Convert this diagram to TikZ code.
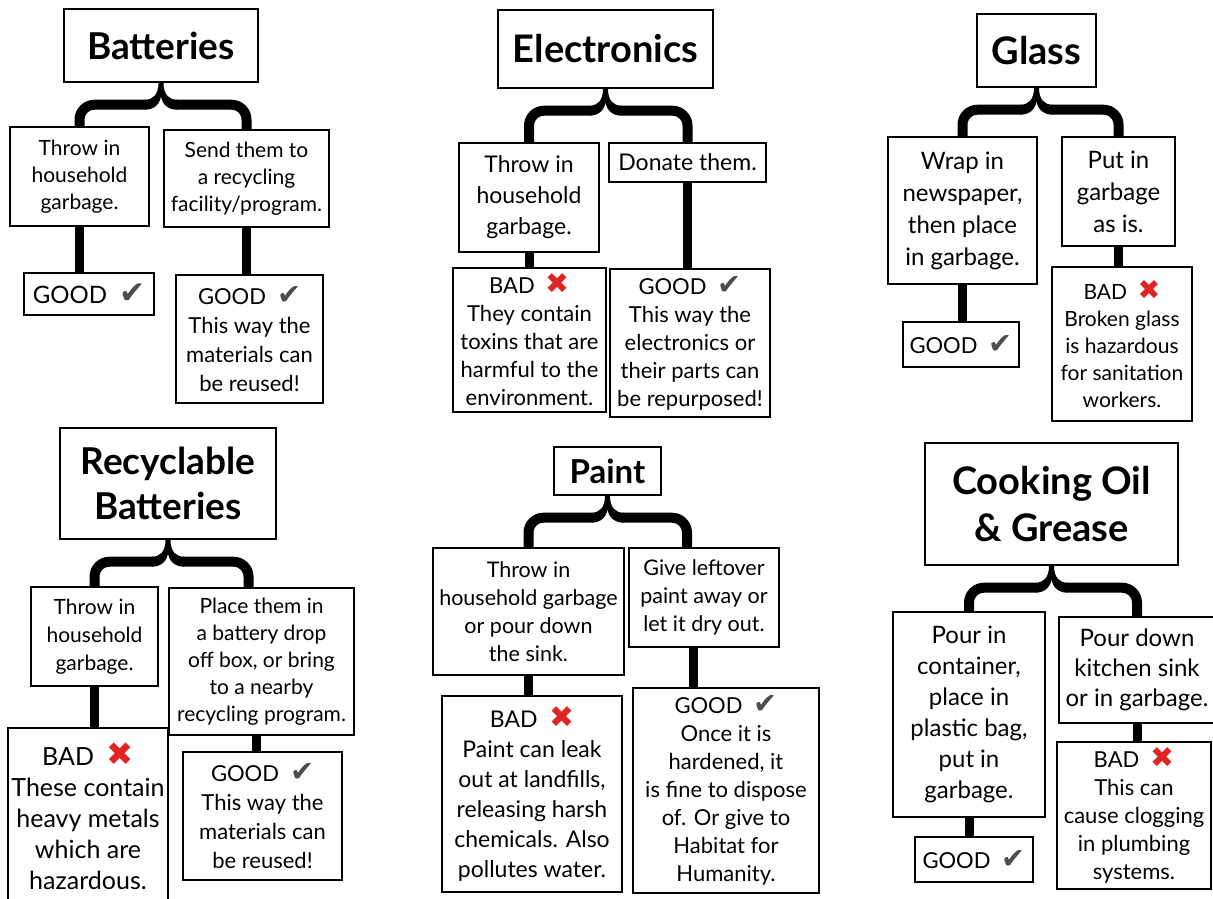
\documentclass[tikz,border=0pt]{standalone}
\usepackage{fontspec}
\usepackage{graphicx}
\setmainfont{Lato}
\newfontfamily\symfont{DejaVu Sans}
\usepackage{tikz}
\definecolor{checkgray}{HTML}{4D4D4D}
\definecolor{crossred}{HTML}{E02424}
\newcommand{\sz}[2]{\fontsize{#1}{#2}\selectfont}
\newcommand{\good}{GOOD\enspace{\symfont\color{checkgray}\scalebox{1.3}{✔}}}
\newcommand{\bad}{BAD\enspace{\symfont\color{crossred}\scalebox{1.3}{✖}}}
% the pointed middle of a curly brace, under a heading box
\newcommand{\bracetip}[1]{\fill (#1.south) ++(-2.5,0) .. controls +(0,12) and +(8,0) .. ++(-13.5,17) -- ++(0,10) .. controls +(10,0) and +(0,8) .. ++(16,-15) .. controls +(0,8) and +(-10,0) .. ++(16,15) -- ++(0,-10) .. controls +(-8,0) and +(0,12) .. ++(-13.5,-17) -- cycle;}

\begin{document}
\begin{tikzpicture}[x=1pt,y=-1pt,
	box/.style={draw, line width=1.4pt, align=center, inner sep=0pt},
	topic/.style={box, font=\bfseries\sz{37}{45}},
	wh/.style 2 args={minimum width=#1pt, minimum height=#2pt},
	brace/.style={line width=10pt, rounded corners=15pt},
	link/.style={line width=9pt}]
	\tikzstyle{every node}=[font=\sz{22}{28}]
	\useasboundingbox (0,0) rectangle (1213,898);

	% batteries
	\draw
		(161,45.5)   node(b0) [topic, wh={194}{73}] {Batteries}
		(79.5,176.5) node(b1) [box, wh={139}{99}, font=\sz{21}{27}] {Throw in\\household\\garbage.}
		(246.5,178.5) node(b2) [box, wh={165}{97}, font=\sz{21}{27}] {Send them to\\a recycling\\facility/program.}
		(89,294)     node(b3) [box, wh={130}{42}, font=\sz{24}{28}] {\good}
		(249.5,339)  node(b4) [box, wh={147}{128}, font=\sz{22}{29}] {\good\\This way the\\materials can\\be reused!};

	% electronics
	\draw
		(605.5,49)   node(e0) [topic, wh={215}{78}, font=\bfseries\sz{38}{45}] {Electronics}
		(529,197.5)  node(e1) [box, wh={140}{109}, font=\sz{23}{31}] {Throw in\\household\\garbage.}
		(687.5,162.5) node(e2) [box, wh={157}{39}, font=\sz{23}{28}] {Donate them.}
		(529.5,340)  node(e3) [box, wh={153}{144}] {\bad\\They contain\\toxins that are\\harmful to the\\environment.}
		(690,343)    node(e4) [box, wh={160}{148}] {\good\\This way the\\electronics or\\their parts can\\be repurposed!};

	% glass
	\draw
		(1036.5,50.5) node(g0) [topic, wh={119}{73}, font=\bfseries\sz{38}{45}] {Glass}
		(962.5,210.5) node(g1) [box, wh={149}{147}, font=\sz{24}{32}] {Wrap in\\newspaper,\\then place\\in garbage.}
		(1118.5,191.5) node(g2) [box, wh={113}{109}, font=\sz{24}{32}] {Put in\\garbage\\as is.}
		(961,344.5)  node(g3) [box, wh={116}{45}, font=\sz{22}{28}] {\good}
		(1122,344)   node(g4) [box, wh={140}{154}, font=\sz{21}{27}] {\bad\\Broken glass\\is hazardous\\for sanitation\\workers.};

	% recyclable batteries
	\draw
		(168,483.5)  node(r0) [topic, wh={216}{111}, font=\bfseries\sz{37}{45}] {Recyclable\\Batteries}
		(94.5,636.5) node(r1) [box, wh={127}{99}, font=\sz{21}{28}] {Throw in\\household\\garbage.}
		(261.5,661.5) node(r2) [box, wh={185}{147}, font=\sz{21}{27}] {Place them in\\a battery drop\\off box, or bring\\to a nearby\\recycling program.}
		(88,816.5)   node(r3) [box, wh={160}{177}, font=\sz{25}{31}] {\bad\\These contain\\heavy metals\\which are\\hazardous.}
		(262.5,816)  node(r4) [box, wh={159}{128}, font=\sz{22}{29}] {\good\\This way the\\materials can\\be reused!};

	% paint
	\draw
		(607.5,471)  node(p0) [topic, wh={107}{48}, font=\bfseries\sz{33}{40}] {Paint}
		(528.5,611.5) node(p1) [box, wh={191}{127}, font=\sz{21.5}{28}] {Throw in\\household garbage\\or pour down\\the sink.}
		(704,597.5)  node(p2) [box, wh={150}{99}, font=\sz{21.5}{28}] {Give leftover\\paint away or\\let it dry out.}
		(532,794)    node(p3) [box, wh={180}{196}, font=\sz{23}{30}] {\bad\\Paint can leak\\out at landfills,\\releasing harsh\\chemicals. Also\\pollutes water.}
		(726,790.5)  node(p4) [box, wh={186}{205}] {\good\\Once it is\\hardened, it\\is fine to dispose\\of. Or give to\\Habitat for\\Humanity.};

	% cooking oil
	\draw
		(1051.5,504) node(c0) [topic, wh={253}{122}, font=\bfseries\sz{38}{47}] {Cooking Oil\\\& Grease}
		(969,714.5)  node(c1) [box, wh={152}{205}, font=\sz{24}{31}] {Pour in\\container,\\place in\\plastic bag,\\put in\\garbage.}
		(1137,670)   node(c2) [box, wh={156}{106}, font=\sz{24}{30}] {Pour down\\kitchen sink\\or in garbage.}
		(974,859.5)  node(c3) [box, wh={118}{45}, font=\sz{22}{28}] {\good}
		(1134,815.5) node(c4) [box, wh={154}{147}] {\bad\\This can\\cause clogging\\in plumbing\\systems.};

	\bracetip{b0}
	\draw [brace] (b0.south) ++(-15,22) -| (b1.north);
	\draw [brace] (b0.south) ++(15,22) -| (b2.north);
	\draw [link] (b1.south) -- (b1.south |- b3.north);
	\draw [link] (b2.south) -- (b2.south |- b4.north);

	\bracetip{e0}
	\draw [brace] (e0.south) ++(-15,22) -| (e1.north);
	\draw [brace] (e0.south) ++(15,22) -| (e2.north);
	\draw [link] (e1.south) -- (e1.south |- e3.north);
	\draw [link] (e2.south) -- (e2.south |- e4.north);

	\bracetip{g0}
	\draw [brace] (g0.south) ++(-15,22) -| (g1.north);
	\draw [brace] (g0.south) ++(15,22) -| (g2.north);
	\draw [link] (g1.south) -- (g1.south |- g3.north);
	\draw [link] (g2.south) -- (g2.south |- g4.north);

	\bracetip{r0}
	\draw [brace] (r0.south) ++(-15,22) -| (r1.north);
	\draw [brace] (r0.south) ++(15,22) -| ([xshift=-13pt]r2.north);
	\draw [link] (r1.south) -- (r1.south |- r3.north);
	\draw [link] ([xshift=-5pt]r2.south) -- ([xshift=-5pt]r2.south |- r4.north);

	\bracetip{p0}
	\draw [brace] (p0.south) ++(-15,22) -| (p1.north);
	\draw [brace] (p0.south) ++(15,22) -| ([xshift=-17pt]p2.north);
	\draw [link] (p1.south) -- (p1.south |- p3.north);
	\draw [link] ([xshift=-11pt]p2.south) -- ([xshift=-11pt]p2.south |- p4.north);

	\bracetip{c0}
	\draw [brace] (c0.south) ++(-15,22) -| (c1.north);
	\draw [brace] (c0.south) ++(15,22) -| (c2.north);
	\draw [link] (c1.south) -- (c1.south |- c3.north);
	\draw [link] (c2.south) -- (c2.south |- c4.north);
\end{tikzpicture}
\end{document}
